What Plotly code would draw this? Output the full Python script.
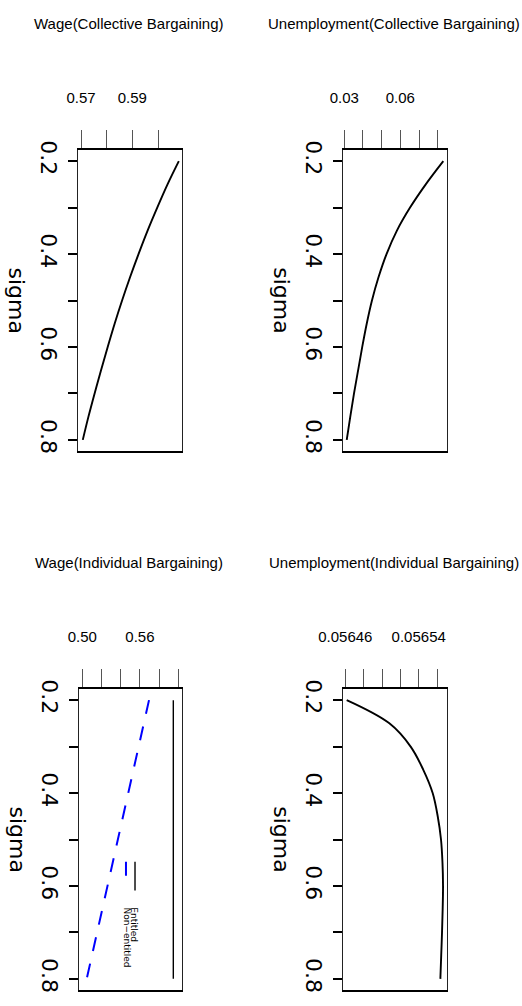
import plotly.graph_objects as go

W, H = 522, 1006

# ---- data -----------------------------------------------------------------
sigma = [0.20, 0.25, 0.30, 0.35, 0.40, 0.45, 0.50, 0.55, 0.60, 0.65, 0.70, 0.75, 0.80]

wage_collective = [0.6081, 0.6037, 0.5997, 0.5959, 0.5924, 0.5891, 0.5860,
                   0.5831, 0.5804, 0.5778, 0.5753, 0.5729, 0.5707]

unemp_collective = [0.0830, 0.0736, 0.0652, 0.0581, 0.0526, 0.0483, 0.0448,
                    0.0420, 0.0396, 0.0374, 0.0352, 0.0332, 0.0313]

wage_entitled = [0.5948, 0.5948, 0.5948, 0.5948, 0.5948, 0.5948, 0.5948,
                 0.5948, 0.5948, 0.5948, 0.5948, 0.5948, 0.5948]

wage_non_entitled = [0.5695, 0.5641, 0.5587, 0.5533, 0.5478, 0.5424, 0.5370,
                     0.5316, 0.5262, 0.5208, 0.5154, 0.5100, 0.5046]

unemp_individual = [0.0564615, 0.0565080, 0.0565312, 0.0565450, 0.0565552,
                    0.0565607, 0.0565643, 0.0565659, 0.0565665, 0.0565661,
                    0.0565654, 0.0565645, 0.0565636]

titles = ["Wage(Collective Bargaining)", "Unemployment(Collective Bargaining)",
          "Wage(Individual Bargaining)", "Unemployment(Individual Bargaining)"]

sigma_ticks = [0.2, 0.3, 0.4, 0.5, 0.6, 0.7, 0.8]
sigma_ticktext = ["0.2", "", "0.4", "", "0.6", "", "0.8"]

wage_cb_ticks = [0.57, 0.58, 0.59, 0.60]
wage_cb_text = ["0.57", "", "0.59", ""]
unemp_cb_ticks = [0.03, 0.04, 0.05, 0.06, 0.07, 0.08]
unemp_cb_text = ["0.03", "", "", "0.06", "", ""]
wage_ib_ticks = [0.50, 0.52, 0.54, 0.56, 0.58, 0.60]
wage_ib_text = ["0.50", "", "", "0.56", "", ""]
unemp_ib_ticks = [0.05646, 0.05648, 0.05650, 0.05652, 0.05654, 0.05656]
unemp_ib_text = ["0.05646", "", "", "", "0.05654", ""]

legend_labels = ["Entitled", "Non\u2212entitled"]

# ---- styling ----------------------------------------------------------------
NARROW = "Liberation Sans, Arial, sans-serif"
WIDE = "DejaVu Sans, Liberation Sans, sans-serif"


def px_x(p):
    return p / W


def px_y(p):
    return 1 - p / H


# plot boxes in pixels: (left, right, top, bottom) and value-axis range
panels = [
    dict(box=(78, 182, 150, 451), xr=[0.56883, 0.60934],
         ticks=wage_cb_ticks, text=wage_cb_text),
    dict(box=(343.3, 446.7, 150, 451), xr=[0.02946, 0.08482],
         ticks=unemp_cb_ticks, text=unemp_cb_text),
    dict(box=(79, 181.7, 689, 990), xr=[0.49656, 0.60354],
         ticks=wage_ib_ticks, text=wage_ib_text),
    dict(box=(343.3, 446.7, 689, 990), xr=[0.0564578, 0.0565705],
         ticks=unemp_ib_ticks, text=unemp_ib_text),
]

fig = go.Figure()

line_black = dict(color="black", width=1.9)

fig.add_trace(go.Scatter(x=wage_collective, y=sigma, mode="lines", line=line_black,
                         line_shape="spline", xaxis="x", yaxis="y", showlegend=False))
fig.add_trace(go.Scatter(x=unemp_collective, y=sigma, mode="lines", line=line_black,
                         line_shape="spline", xaxis="x2", yaxis="y2", showlegend=False))
fig.add_trace(go.Scatter(x=wage_entitled, y=sigma, mode="lines",
                         line=dict(color="black", width=1.4),
                         xaxis="x3", yaxis="y3", showlegend=False))
fig.add_trace(go.Scatter(x=wage_non_entitled, y=sigma, mode="lines",
                         line=dict(color="#0000ff", width=2, dash="14px,13px"),
                         xaxis="x3", yaxis="y3", showlegend=False))
fig.add_trace(go.Scatter(x=unemp_individual, y=sigma, mode="lines", line=line_black,
                         line_shape="spline", xaxis="x4", yaxis="y4", showlegend=False))

layout = dict(
    width=W, height=H,
    margin=dict(l=0, r=0, t=0, b=0, autoexpand=False),
    paper_bgcolor="white", plot_bgcolor="white",
    showlegend=False,
)

annotations = []
for i, p in enumerate(panels):
    sfx = "" if i == 0 else str(i + 1)
    l, r, t, b = p["box"]
    layout["xaxis" + sfx] = dict(
        domain=[px_x(l), px_x(r)], range=p["xr"], side="top", anchor="y" + sfx,
        tickmode="array", tickvals=p["ticks"], ticktext=p["text"],
        ticks="outside", ticklen=18, tickwidth=1, tickcolor="#555",
        ticklabelstandoff=21, automargin=False,
        tickfont=dict(family=NARROW, size=15, color="black"),
        showline=True, linewidth=2, linecolor="black", mirror=True,
        showgrid=False, zeroline=False, fixedrange=True,
    )
    layout["yaxis" + sfx] = dict(
        domain=[px_y(b), px_y(t)], range=[0.824, 0.176], anchor="x" + sfx,
        tickmode="array", tickvals=sigma_ticks, ticktext=sigma_ticktext,
        ticks="outside", ticklen=9, tickwidth=2, tickcolor="black",
        tickangle=90, ticklabelstandoff=1, automargin=False,
        tickfont=dict(family=WIDE, size=22, color="black"),
        showline=True, linewidth=1, linecolor="#222", mirror=True,
        showgrid=False, zeroline=False, fixedrange=True,
    )
    # panel title
    annotations.append(dict(
        text=titles[i], xref="paper", yref="paper",
        x=px_x((l + r) / 2 - 1.5), y=px_y(t - 127), xanchor="center", yanchor="middle",
        showarrow=False, font=dict(family=NARROW, size=15, color="black"),
    ))
    # sigma axis title
    annotations.append(dict(
        text="sigma", xref="paper", yref="paper",
        x=px_x(l - 62), y=px_y((t + b) / 2), xanchor="center", yanchor="middle",
        textangle=90, showarrow=False, font=dict(family=WIDE, size=22, color="black"),
    ))

# legend inside the individual-bargaining wage panel
annotations.append(dict(
    text=legend_labels[0], xref="x3", yref="y3", x=0.5541, y=0.641,
    xanchor="center", yanchor="top", textangle=90, showarrow=False,
    font=dict(family=WIDE, size=9, color="black"),
))
annotations.append(dict(
    text=legend_labels[1], xref="x3", yref="y3", x=0.5461, y=0.641,
    xanchor="center", yanchor="top", textangle=90, showarrow=False,
    font=dict(family=WIDE, size=9, color="black"),
))
layout["annotations"] = annotations
layout["shapes"] = [
    dict(type="line", xref="x3", yref="y3", x0=0.5549, x1=0.5549, y0=0.548, y1=0.610,
         line=dict(color="black", width=1.4)),
    dict(type="line", xref="x3", yref="y3", x0=0.5455, x1=0.5455, y0=0.548, y1=0.610,
         line=dict(color="#0000ff", width=2, dash="14px,20px")),
]

fig.update_layout(**layout)
fig.write_html("out.html")
